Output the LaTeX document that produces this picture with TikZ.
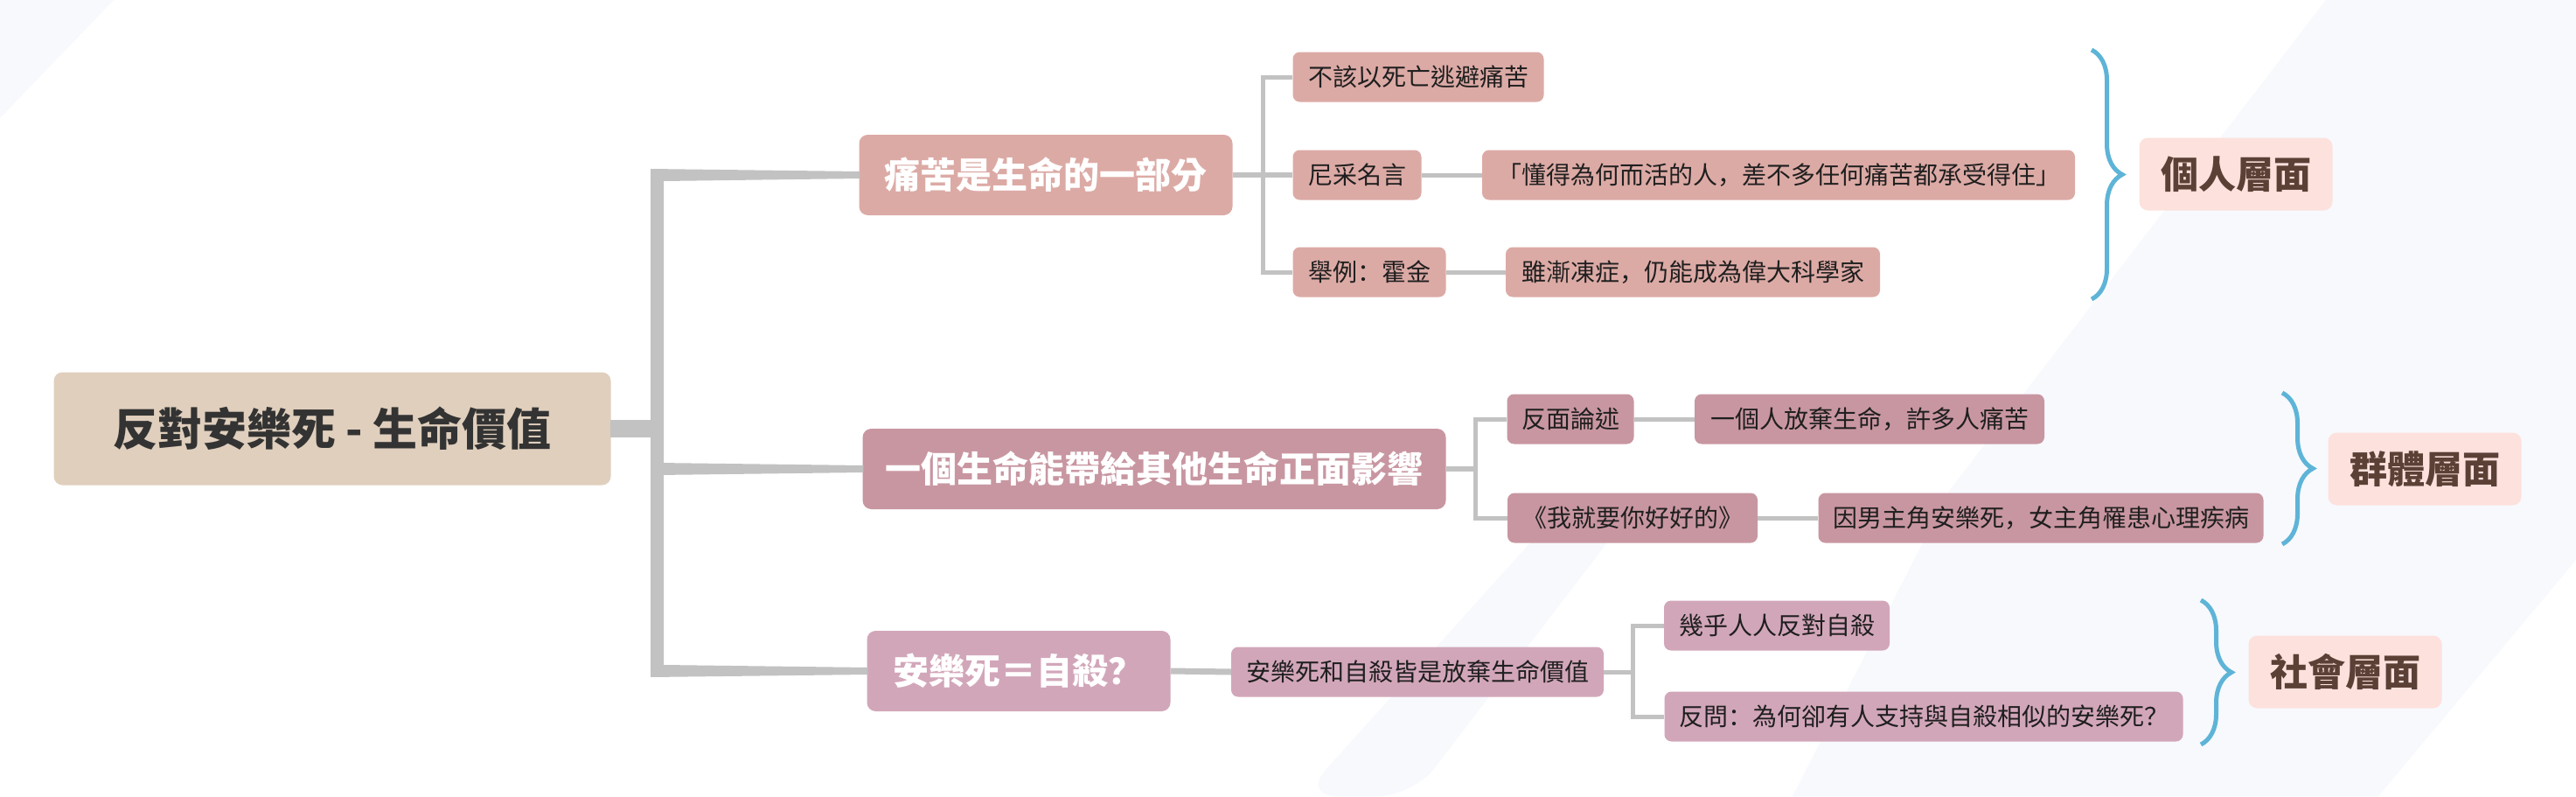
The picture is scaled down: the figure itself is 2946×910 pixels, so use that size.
\documentclass[tikz,border=0pt]{standalone}
\usepackage{fontspec}
\setmainfont{Noto Sans CJK TC}
\newfontfamily\scfont{Noto Sans CJK SC}
\newcommand{\pu}[1]{{\scfont #1}}
\usetikzlibrary{calc,decorations.pathreplacing}
\definecolor{rootc}{HTML}{E0CFBD}
\definecolor{bA}{HTML}{DCAAA5}
\definecolor{bB}{HTML}{C896A1}
\definecolor{bC}{HTML}{D2A6B9}
\definecolor{conn}{HTML}{C2C2C2}
\definecolor{bracec}{HTML}{5EB4D7}
\definecolor{catfill}{HTML}{FDE1DD}
\definecolor{cattext}{HTML}{5B4036}
\definecolor{bgone}{HTML}{F7F9FD}
\definecolor{roottext}{HTML}{333333}
\begin{document}
\begin{tikzpicture}[x=1pt,y=-1pt,
 box/.style={rounded corners=10pt, inner sep=0pt, align=center},
 rootbox/.style={box, fill=rootc, minimum width=637pt, minimum height=129pt, font=\fontsize{51}{60}\selectfont\bfseries, text=roottext},
 mainbox/.style={box, minimum height=92pt, font=\fontsize{41}{48}\selectfont\bfseries, text=white},
 subbox/.style={box, rounded corners=8pt, minimum height=57pt, font=\fontsize{28}{34}\selectfont, text=black!88},
 catbox/.style={box, fill=catfill, minimum width=221pt, minimum height=83pt, font=\fontsize{43}{52}\selectfont\bfseries, text=cattext},
 sub/.style={draw=conn, line width=5pt},
 brc/.style={draw=bracec, line width=5pt, decorate, decoration={brace, amplitude=35pt, aspect=0.5}},
]
\useasboundingbox (0,0) rectangle (2946,910);
\fill[white] (0,0) rectangle (2946,910);
% faint background shapes
\fill[bgone] (2660,0) -- (2946,0) -- (2946,640) -- (2720,910) -- (2050,910) -- (2230,560) -- cycle;
\fill[bgone] (0,0) -- (130,0) -- (0,135) -- cycle;
\fill[bgone, rounded corners=40pt] (1489,910) -- (1800,565) -- (1865,585) -- (1616,910) -- cycle;

% nodes
\node[rootbox] (root) at (380,490) {反對安樂死 - 生命價值};
\node[mainbox, fill=bA, minimum width=427pt] (b1) at (1196,200) {痛苦是生命的一部分};
\node[mainbox, fill=bB, minimum width=667pt] (b2) at (1320,536) {一個生命能帶給其他生命正面影響};
\node[mainbox, fill=bC, minimum width=347pt] (b3) at (1165,767) {安樂死＝自殺\pu{？}};

\node[subbox, fill=bA, minimum width=287pt] (c11) at (1622,88) {不該以死亡逃避痛苦};
\node[subbox, fill=bA, minimum width=147pt] (c12) at (1552,200) {尼采名言};
\node[subbox, fill=bA, minimum width=678pt] (c12a) at (2034,200) {「懂得為何而活的人\pu{，}差不多任何痛苦都承受得住」};
\node[subbox, fill=bA, minimum width=175pt] (c13) at (1566,311) {舉例\pu{：}霍金};
\node[subbox, fill=bA, minimum width=428pt] (c13a) at (1936,311) {雖漸凍症\pu{，}仍能成為偉大科學家};
\node[subbox, fill=bB, minimum width=145pt] (c21) at (1796,479) {反面論述};
\node[subbox, fill=bB, minimum width=400pt] (c21a) at (2138,479) {一個人放棄生命\pu{，}許多人痛苦};
\node[subbox, fill=bB, minimum width=286pt] (c22) at (1867,592) {《我就要你好好的》};
\node[subbox, fill=bB, minimum width=509pt] (c22a) at (2334,592) {因男主角安樂死\pu{，}女主角罹患心理疾病};
\node[subbox, fill=bC, minimum width=426pt] (c31) at (1621,768) {安樂死和自殺皆是放棄生命價值};
\node[subbox, fill=bC, minimum width=258pt] (c32) at (2032,715) {幾乎人人反對自殺};
\node[subbox, fill=bC, minimum width=593pt] (c33) at (2200,819) {反問\pu{：}為何卻有人支持與自殺相似的安樂死\pu{？}};

\node[catbox] (cat1) at (2557,199) {個人層面};
\node[catbox] (cat2) at (2773,536) {群體層面};
\node[catbox] (cat3) at (2682,768) {社會層面};

% trunk connectors
\coordinate (tx) at (752,490);
\fill[conn] ($(root.east)+(-1,-10)$) rectangle ($(tx)+(0,10)$);
\fill[conn] ($(tx|-b1.west)+(-8,-7)$) -- ($(b1.west)+(1,-4)$) -- ($(b1.west)+(1,4)$) -- ($(tx|-b1.west)+(7,7)$) -- ($(tx|-b3.west)+(7,-7)$) -- ($(b3.west)+(1,-4)$) -- ($(b3.west)+(1,4)$) -- ($(tx|-b3.west)+(-8,7)$) -- cycle;
\fill[conn] ($(tx|-b2.west)+(0,-7)$) -- ($(b2.west)+(1,-4)$) -- ($(b2.west)+(1,4)$) -- ($(tx|-b2.west)+(0,7)$) -- cycle;

% sub connectors
\coordinate (v1) at (1444,0);
\coordinate (v2) at (1687,0);
\coordinate (v3) at (1867,0);
\draw[sub, line width=6pt] (b1.east) -- (c12.west);
\draw[sub] (c11.west) -- (c11.west -| v1) -- (c13.west -| v1) -- (c13.west);
\draw[sub] (c12.east) -- (c12a.west);
\draw[sub] (c13.east) -- (c13a.west);
\draw[sub, line width=6pt] (b2.east) -- (b2.east -| v2);
\draw[sub] (c21.west) -- (c21.west -| v2) -- (c22.west -| v2) -- (c22.west);
\draw[sub] (c21.east) -- (c21a.west);
\draw[sub] (c22.east) -- (c22a.west);
\draw[sub, line width=7pt] (b3.east) -- (c31.west);
\draw[sub] (c31.east) -- (c31.east -| v3);
\draw[sub] (c32.west) -- (c32.west -| v3) -- (c33.west -| v3) -- (c33.west);

% braces
\coordinate (k1t) at (2392,57);
\coordinate (k1b) at (2392,342);
\coordinate (k2t) at (2610,449);
\coordinate (k2b) at (2610,622);
\coordinate (k3t) at (2517,686);
\coordinate (k3b) at (2517,851);
\draw[brc] (k1t) -- (k1b);
\draw[brc] (k2t) -- (k2b);
\draw[brc] (k3t) -- (k3b);
\end{tikzpicture}
\end{document}
